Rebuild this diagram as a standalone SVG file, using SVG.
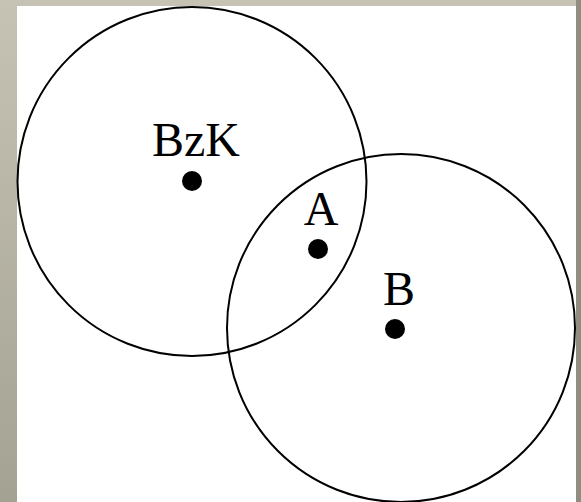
<svg xmlns="http://www.w3.org/2000/svg" width="581" height="502" viewBox="0 0 581 502">
<defs>
<linearGradient id="bg" x1="0" y1="0" x2="0" y2="1">
<stop offset="0" stop-color="#c6c3b5"/>
<stop offset="1" stop-color="#a4a293"/>
</linearGradient>
<style>
.c{fill:none;stroke:#000;stroke-width:2}
.d{fill:#000}
.t{font-family:"Liberation Serif","Times New Roman",serif;font-size:48px;fill:#000;text-anchor:middle}
</style>
</defs>
<rect x="0" y="0" width="581" height="502" fill="url(#bg)"/>
<rect x="576" y="0" width="5" height="502" fill="#8e8d7f"/>
<rect x="17" y="6" width="559" height="496" fill="#fff"/>
<g id="circle-bzk"><circle class="c" cx="192" cy="181.5" r="174.5"/></g>
<g id="circle-b"><circle class="c" cx="401" cy="328" r="174"/></g>
<g id="node-bzk"><circle class="d" cx="192" cy="181" r="10"/><text class="t" x="196" y="156">BzK</text></g>
<g id="node-a"><circle class="d" cx="318" cy="249" r="10"/><text class="t" x="321" y="225">A</text></g>
<g id="node-b"><circle class="d" cx="395" cy="329" r="10"/><text class="t" x="399" y="305">B</text></g>
<g id="connectors"/>
</svg>
